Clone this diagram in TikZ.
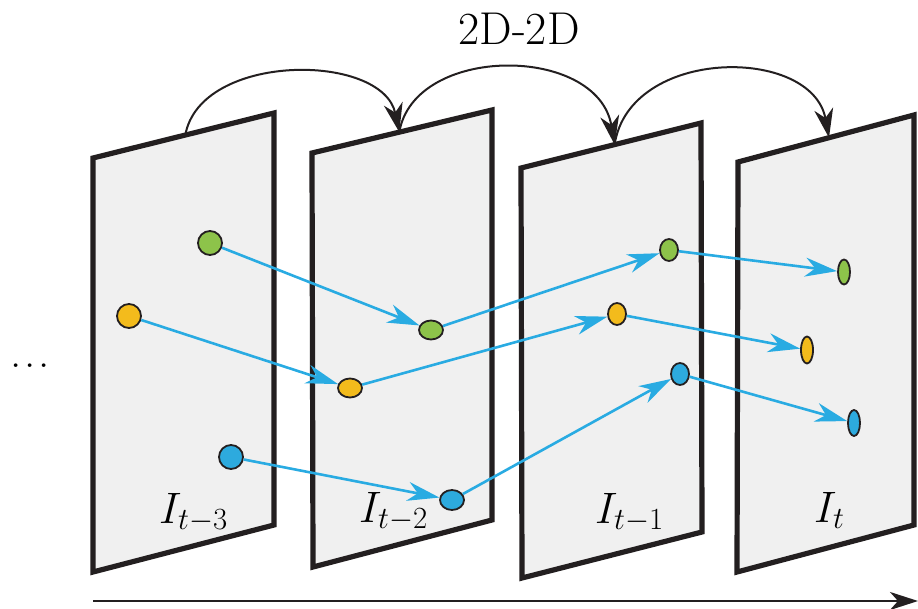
\documentclass[tikz,border=0pt]{standalone}
\usepackage{fix-cm}
\usepackage{fontspec}
\usetikzlibrary{arrows.meta,shapes.geometric,calc}
\definecolor{panelgray}{RGB}{240,240,240}
\definecolor{ptgreen}{RGB}{141,195,74}
\definecolor{ptyellow}{RGB}{243,187,28}
\definecolor{ptblue}{RGB}{45,170,222}
\definecolor{arrblue}{RGB}{41,171,226}
\definecolor{ink}{RGB}{35,31,32}
\tikzset{
  panel/.style={fill=panelgray, draw=ink, line width=5.2pt, line join=miter},
  pt/.style={ellipse, draw=ink, line width=1.8pt, inner sep=0pt},
  track/.style={draw=arrblue, line width=2.6pt, -{Stealth[length=32pt,width=19pt,inset=10pt]}},
  hop/.style={draw=ink, line width=2pt, -{Stealth[length=29pt,width=19pt,inset=9pt]}},
  timeaxis/.style={draw=ink, line width=2.8pt, -{Stealth[length=28pt,width=18pt,inset=8pt]}},
  lab/.style={font=\fontsize{44}{53}\selectfont, inner sep=0pt}
}
\begin{document}
\begin{tikzpicture}[x=1pt,y=-1pt]
\useasboundingbox (0,0) rectangle (918,609);

% panel corners
\coordinate (p1tl) at (93,158);  \coordinate (p1tr) at (274,113);
\coordinate (p1br) at (274,525); \coordinate (p1bl) at (93,572);
\coordinate (p2tl) at (312,153); \coordinate (p2tr) at (492,110);
\coordinate (p2br) at (492,520); \coordinate (p2bl) at (313,567);
\coordinate (p3tl) at (521,168); \coordinate (p3tr) at (701,123);
\coordinate (p3br) at (702,532); \coordinate (p3bl) at (522,578);
\coordinate (p4tl) at (738,162); \coordinate (p4tr) at (914,115);
\coordinate (p4br) at (914,525); \coordinate (p4bl) at (737,572);

\foreach \i in {1,2,3,4}{
  \draw[panel] (p\i tl) -- (p\i tr) -- (p\i br) -- (p\i bl) -- cycle;
}

% arc anchor points on top edges
\coordinate (a1) at ($(p1tl)!0.51!(p1tr)$);
\coordinate (a2) at ($(p2tl)!0.485!(p2tr)$);
\coordinate (a3) at ($(p3tl)!0.52!(p3tr)$);
\coordinate (a4) at ($(p4tl)!0.517!(p4tr)$);

\draw[hop] (a1) .. controls +(15,-83) and +(-17,-80) .. (a2);
\draw[hop] (a2) .. controls +(15,-88) and +(-17,-100) .. (a3);
\draw[hop] (a3) .. controls +(15,-98) and +(-17,-92) .. (a4);

\node[anchor=base, font=\fontsize{46}{55}\selectfont, inner sep=0pt] (title) at (519,45) {2D-2D};

% feature points
\node[pt, fill=ptgreen,  minimum width=24pt, minimum height=24pt] (g1) at (210,243) {};
\node[pt, fill=ptyellow, minimum width=24pt, minimum height=24pt] (y1) at (129,316) {};
\node[pt, fill=ptblue,   minimum width=24pt, minimum height=24pt] (b1) at (231,457) {};

\node[pt, fill=ptgreen,  minimum width=24pt, minimum height=19pt] (g2) at (431,330) {};
\node[pt, fill=ptyellow, minimum width=24pt, minimum height=19pt] (y2) at (350,388) {};
\node[pt, fill=ptblue,   minimum width=24pt, minimum height=20pt] (b2) at (452,500) {};

\node[pt, fill=ptgreen,  minimum width=18pt, minimum height=22pt] (g3) at (669,250) {};
\node[pt, fill=ptyellow, minimum width=18pt, minimum height=22pt] (y3) at (617,314) {};
\node[pt, fill=ptblue,   minimum width=18pt, minimum height=22pt] (b3) at (680,374) {};

\node[pt, fill=ptgreen,  minimum width=12pt, minimum height=25pt] (g4) at (844,272) {};
\node[pt, fill=ptyellow, minimum width=12pt, minimum height=27pt] (y4) at (807,350) {};
\node[pt, fill=ptblue,   minimum width=12pt, minimum height=26pt] (b4) at (854,423) {};

% tracks
\draw[track] (g1) -- (g2);
\draw[track] (y1) -- (y2);
\draw[track] (b1) -- (b2);
\draw[track] (g2) -- (g3);
\draw[track] (y2) -- (y3);
\draw[track] (b2) -- (b3);
\draw[track] (g3) -- (g4);
\draw[track] (y3) -- (y4);
\draw[track] (b3) -- (b4);

% frame labels
\node[lab, anchor=base west] (l1) at (159,523) {$I_{t-3}$};
\node[lab, anchor=base west] (l2) at (359,522) {$I_{t-2}$};
\node[lab, anchor=base west] (l3) at (595,523) {$I_{t-1}$};
\node[lab, anchor=base west] (l4) at (814,522) {$I_{t}$};

% dots
\node[anchor=base, font=\fontsize{45}{54}\selectfont, inner sep=0pt] (dots) at (30,367) {.\kern2.5pt.\kern2.5pt.};

% time axis
\coordinate (ax0) at (93,601);
\coordinate (ax1) at (918,601);
\draw[timeaxis] (ax0) -- (ax1);
\end{tikzpicture}
\end{document}
